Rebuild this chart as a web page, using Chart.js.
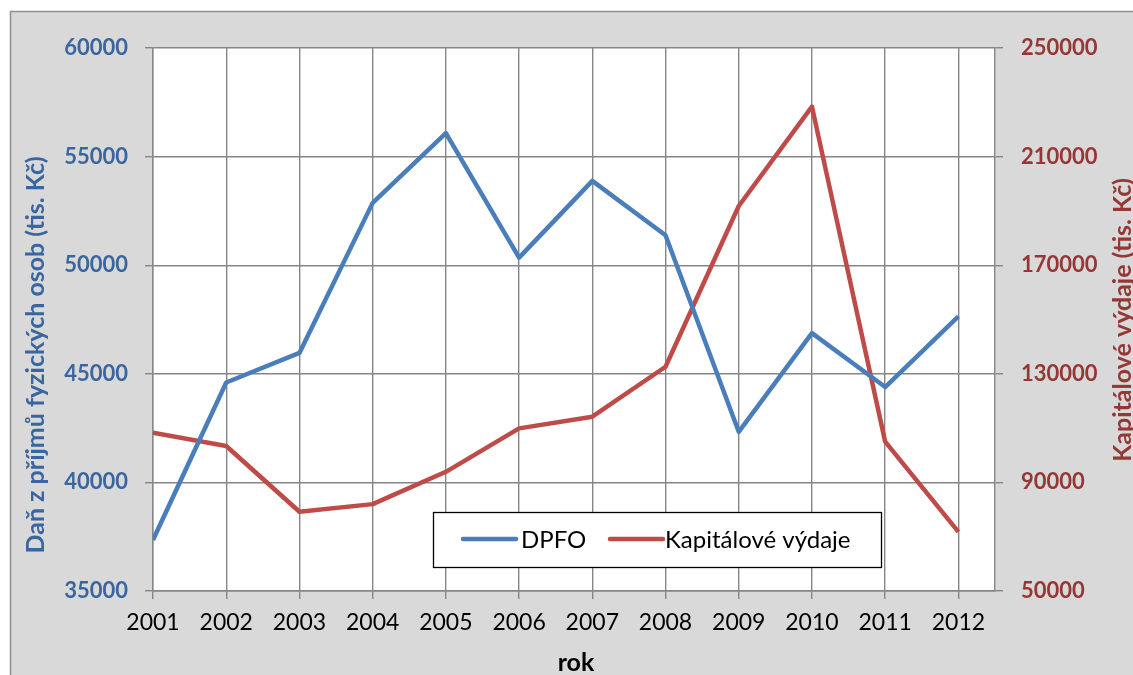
<!DOCTYPE html>
<html>
<head>
<meta charset="utf-8">
<script src="https://cdn.jsdelivr.net/npm/chart.js@4.4.0/dist/chart.umd.min.js"></script>
<style>
  html, body { margin: 0; padding: 0; background: #fff; }
  #wrap { width: 1133px; height: 675px; position: relative; }
</style>
</head>
<body>
<div id="wrap"><canvas id="chart"></canvas></div>
<script>
// values
const years = [2001, 2002, 2003, 2004, 2005, 2006, 2007, 2008, 2009, 2010, 2011, 2012];
const dpfo = [37350, 44600, 45960, 52870, 56080, 50350, 53880, 51380, 42330, 46870, 44390, 47640];
const kapitalove = [108300, 103400, 79200, 82000, 93900, 109900, 114200, 132600, 191800, 228400, 105000, 71800];
const leftTicks = [35000, 40000, 45000, 50000, 55000, 60000];
const rightTicks = [50000, 90000, 130000, 170000, 210000, 250000];
const seriesNames = ["DPFO", "Kapitálové výdaje"];
const leftTitle = "Daň z příjmů fyzických osob (tis. Kč)";
const rightTitle = "Kapitálové výdaje (tis. Kč)";
const xTitle = "rok";

const FONT = "Lato, 'Open Sans', sans-serif";
const BLUE = "#4a7ebb";
const RED = "#be4b48";
const BLUE_TXT = "#3a66a0";
const RED_TXT = "#953735";
const GRID = "#868686";

// grey frame + white plot area
const backdrop = {
  id: "backdrop",
  beforeDraw(chart) {
    const { ctx, chartArea: a } = chart;
    ctx.save();
    ctx.fillStyle = "#fff";
    ctx.fillRect(0, 0, chart.width, chart.height);
    ctx.fillStyle = "#d9d9d9";
    ctx.fillRect(10, 11, chart.width, chart.height);
    ctx.strokeStyle = "#8f8f8f";
    ctx.lineWidth = 1.5;
    ctx.beginPath();
    ctx.moveTo(10.5, chart.height);
    ctx.lineTo(10.5, 11.5);
    ctx.lineTo(chart.width, 11.5);
    ctx.stroke();
    ctx.fillStyle = "#fff";
    ctx.fillRect(a.left, a.top, a.right - a.left, a.bottom - a.top);
    ctx.restore();
  }
};

// axis titles (both vertical ones read bottom to top) and the boxed legend
const extras = {
  id: "extras",
  afterDraw(chart) {
    const { ctx } = chart;
    ctx.save();
    ctx.font = "bold 25px " + FONT;
    ctx.textAlign = "center";
    ctx.textBaseline = "middle";

    ctx.fillStyle = BLUE_TXT;
    ctx.save();
    ctx.translate(36, 355);
    ctx.rotate(-Math.PI / 2);
    ctx.fillText(leftTitle, 0, 0);
    ctx.restore();

    ctx.fillStyle = RED_TXT;
    ctx.save();
    ctx.translate(1123, 320);
    ctx.rotate(-Math.PI / 2);
    ctx.fillText(rightTitle, 0, 0);
    ctx.restore();

    ctx.fillStyle = "#000";
    ctx.fillText(xTitle, 576, 663);

    // legend
    ctx.fillStyle = "#fff";
    ctx.fillRect(433, 512, 448, 55);
    ctx.strokeStyle = "#000";
    ctx.lineWidth = 1.3;
    ctx.strokeRect(433.5, 512.5, 448, 55);
    const items = [
      { x: 463, tx: 521 },
      { x: 610, tx: 665 }
    ];
    ctx.font = "24px " + FONT;
    ctx.textAlign = "left";
    chart.data.datasets.forEach((ds, i) => {
      const it = items[i];
      ctx.strokeStyle = ds.borderColor;
      ctx.lineWidth = 4.5;
      ctx.lineCap = "round";
      ctx.beginPath();
      ctx.moveTo(it.x, 539);
      ctx.lineTo(it.x + 53, 539);
      ctx.stroke();
      ctx.fillStyle = "#000";
      ctx.fillText(ds.label, it.tx, 540);
    });
    ctx.restore();
  }
};

new Chart(document.getElementById("chart"), {
  type: "line",
  data: {
    datasets: [
      {
        label: seriesNames[0],
        data: years.map((x, i) => ({ x, y: dpfo[i] })),
        borderColor: BLUE,
        backgroundColor: BLUE,
        borderWidth: 4.5,
        pointRadius: 0,
        tension: 0,
        borderJoinStyle: "round",
        yAxisID: "y"
      },
      {
        label: seriesNames[1],
        data: years.map((x, i) => ({ x, y: kapitalove[i] })),
        borderColor: RED,
        backgroundColor: RED,
        borderWidth: 4.5,
        pointRadius: 0,
        tension: 0,
        borderJoinStyle: "round",
        yAxisID: "y2"
      }
    ]
  },
  options: {
    responsive: true,
    maintainAspectRatio: false,
    animation: false,
    layout: { padding: { left: 0, right: 0, top: 48, bottom: 0 } },
    plugins: {
      legend: { display: false },
      tooltip: { enabled: false }
    },
    scales: {
      x: {
        type: "linear",
        min: years[0],
        max: years[years.length - 1] + 0.5,
        afterBuildTicks: (scale) => {
          scale.ticks = years.map((v) => ({ value: v }));
        },
        afterFit: (scale) => { scale.height = 84; },
        ticks: {
          callback: (v) => String(v),
          color: "#000",
          font: { family: FONT, size: 23 },
          padding: 10,
          maxRotation: 0,
          autoSkip: false
        },
        grid: { color: GRID, lineWidth: 1.4, tickLength: 8 },
        border: { display: true, color: GRID, width: 1.4 }
      },
      y: {
        position: "left",
        min: leftTicks[0],
        max: leftTicks[leftTicks.length - 1],
        afterBuildTicks: (scale) => {
          scale.ticks = leftTicks.map((v) => ({ value: v }));
        },
        afterFit: (scale) => { scale.width = 153; },
        ticks: {
          callback: (v) => String(v),
          color: BLUE_TXT,
          font: { family: FONT, size: 22, weight: "bold" },
          padding: 17
        },
        grid: { color: GRID, lineWidth: 1.4, tickLength: 8 },
        border: { display: true, color: GRID, width: 1.4 }
      },
      y2: {
        position: "right",
        min: rightTicks[0],
        max: rightTicks[rightTicks.length - 1],
        afterBuildTicks: (scale) => {
          scale.ticks = rightTicks.map((v) => ({ value: v }));
        },
        afterFit: (scale) => { scale.width = 138; },
        ticks: {
          callback: (v) => String(v),
          color: RED_TXT,
          font: { family: FONT, size: 22, weight: "bold" },
          padding: 18
        },
        grid: { drawOnChartArea: false, color: GRID, lineWidth: 1.4, tickLength: 8 },
        border: { display: true, color: GRID, width: 1.4 }
      }
    }
  },
  plugins: [backdrop, extras]
});
</script>
</body>
</html>
